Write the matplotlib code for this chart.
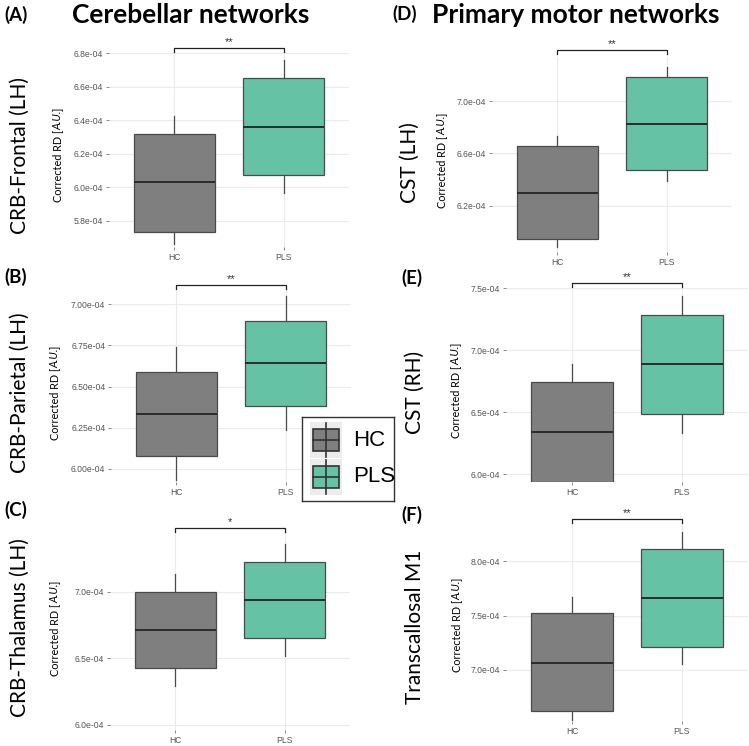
import numpy as np
import matplotlib.pyplot as plt
from matplotlib.patches import Rectangle

groups = ['HC', 'PLS']
tracts = ['CRB-Frontal (LH)', 'CRB-Parietal (LH)', 'CRB-Thalamus (LH)',
          'CST (LH)', 'CST (RH)', 'Transcallosal M1']
tags = ['(A)', '(B)', '(C)', '(D)', '(E)', '(F)']
signif = ['**', '**', '*', '**', '**', '**']
col_titles = ['Cerebellar networks', 'Primary motor networks']

# corrected RD, units of 1e-4: whisker low, q1, median, q3, whisker high
hc_stats = [
    [5.657, 5.734, 6.028, 6.315, 6.422],
    [5.933, 6.081, 6.335, 6.591, 6.740],
    [6.292, 6.425, 6.710, 6.995, 7.130],
    [5.884, 5.943, 6.299, 6.656, 6.732],
    [5.914, 5.940, 6.341, 6.745, 6.893],
    [6.530, 6.618, 7.064, 7.521, 7.674],
]
pls_stats = [
    [5.966, 6.072, 6.360, 6.648, 6.758],
    [6.238, 6.385, 6.641, 6.900, 7.050],
    [6.520, 6.655, 6.940, 7.225, 7.358],
    [6.388, 6.470, 6.826, 7.181, 7.262],
    [6.335, 6.484, 6.890, 7.285, 7.438],
    [7.059, 7.216, 7.665, 8.116, 8.275],
]
yticks = [
    [5.8, 6.0, 6.2, 6.4, 6.6, 6.8],
    [6.00, 6.25, 6.50, 6.75, 7.00],
    [6.0, 6.5, 7.0],
    [6.2, 6.6, 7.0],
    [6.0, 6.5, 7.0, 7.5],
    [7.0, 7.5, 8.0],
]
tick_fmt = ['%.1e', '%.2e', '%.1e', '%.1e', '%.1e', '%.1e']
ylims = [(5.642, 6.806), (5.921, 7.099), (5.9625, 7.440),
         (5.846, 7.337), (5.938, 7.502), (6.529, 8.355)]

colors = ['#7f7f7f', '#66c2a5']
edge = '#4a4a4a'
W, H = 749, 746

# layout in pixels
boxes = [(109, 349, 52, 247), (111, 351, 288, 482), (110, 350, 533, 730),
         (492, 732, 57, 252), (506, 748, 288, 482), (506, 748, 523, 721)]
brk_off = [4, 3, 5, 7, 5, 4]
row_lab = [(20, 155), (20, 393), (20, 628), (410, 163), (415, 392), (415, 627)]
y_lab = [(58, 155), (55, 393), (55, 628), (442, 160), (456, 390), (457, 625)]
tag_pos = [(4, 15), (4, 277), (4, 510), (392, 14), (401, 278), (401, 515)]

fig = plt.figure(figsize=(W / 100, H / 100), dpi=100)
fig.patch.set_facecolor('white')
renderer = fig.canvas.get_renderer()


def rotated_label(xc, yc, pieces):
    # pieces: list of (text, style); stacked bottom-to-top, centred on (xc, yc) in pixels
    texts = [fig.text(0, 0, s, rotation=90, ha='center', va='bottom', fontsize=7.8,
                      family='Lato', style=st) for s, st in pieces]
    lens = [t.get_window_extent(renderer).height for t in texts]
    y = (H - yc) - sum(lens) / 2
    for t, L in zip(texts, lens):
        t.set_position((xc / W, y / H))
        y += L


for i in range(6):
    l, r, t, b = boxes[i]
    ax = fig.add_axes([l / W, 1 - b / H, (r - l) / W, (b - t) / H])
    ax.set_facecolor('white')
    for s in ax.spines.values():
        s.set_visible(False)
    stats = []
    for g, st in zip(groups, [hc_stats[i], pls_stats[i]]):
        v = np.array(st) * 1e-4
        stats.append(dict(label=g, whislo=v[0], q1=v[1], med=v[2], q3=v[3], whishi=v[4], fliers=[]))
    bp = ax.bxp(stats, positions=[1, 2], widths=0.75, patch_artist=True, showcaps=False,
                boxprops=dict(edgecolor=edge, linewidth=0.9),
                whiskerprops=dict(color=edge, linewidth=0.9),
                medianprops=dict(color='#2b2b2b', linewidth=1.4), zorder=3)
    for patch, c in zip(bp['boxes'], colors):
        patch.set_facecolor(c)
    ax.set_xlim(0.4, 2.6)
    ax.set_ylim(ylims[i][0] * 1e-4, ylims[i][1] * 1e-4)
    ticks = np.array(yticks[i]) * 1e-4
    ax.set_yticks(ticks)
    ax.set_yticklabels([tick_fmt[i] % v for v in ticks], fontsize=6.2,
                       color='#555555', family='Liberation Sans')
    ax.set_xticks([1, 2])
    ax.set_xticklabels(groups, fontsize=6.2, color='#555555', family='Liberation Sans')
    ax.tick_params(length=2, width=0.6, color='#777777', pad=2)
    ax.grid(True, color='#ebebeb', linewidth=0.8, zorder=0)
    ax.set_axisbelow(True)

    # significance bracket above the panel
    hpx = b - t
    yb = 1 + brk_off[i] / hpx
    tr = ax.get_xaxis_transform()
    ax.plot([1, 1, 2, 2], [yb - 4 / hpx, yb, yb, yb - 4 / hpx], color='#222222',
            linewidth=0.9, transform=tr, clip_on=False)
    ax.text(1.5, yb + 1 / hpx, signif[i], transform=tr, ha='center', va='bottom',
            fontsize=8, color='#333333', family='Liberation Sans')

    x, y = row_lab[i]
    fig.text(x / W, 1 - y / H, tracts[i], rotation=90, ha='center', va='center',
             fontsize=15, family='Lato')
    x, y = y_lab[i]
    rotated_label(x, y, [('Corrected RD [', 'normal'), ('A.U.', 'italic'), (']', 'normal')])
    x, y = tag_pos[i]
    fig.text(x / W, 1 - y / H, tags[i], ha='left', va='center', fontsize=13.5,
             fontweight='bold', family='Lato')

fig.text(72 / W, 1 - 15 / H, col_titles[0], ha='left', va='center', fontsize=19,
         fontweight='bold', family='Lato')
fig.text(432 / W, 1 - 15 / H, col_titles[1], ha='left', va='center', fontsize=19,
         fontweight='bold', family='Lato')

# legend drawn as a small boxplot key
lg = fig.add_axes([302 / W, 1 - 501 / H, 92 / W, 84 / H])
lg.set_xlim(0, 92)
lg.set_ylim(84, 0)
lg.set_xticks([])
lg.set_yticks([])
for s in lg.spines.values():
    s.set_color('#333333')
    s.set_linewidth(1.0)
for k, (g, c) in enumerate(zip(groups, colors)):
    cy = 23 + k * 37
    lg.add_patch(Rectangle((8, cy - 18), 32, 36, facecolor='#ececec', edgecolor='none'))
    lg.plot([24, 24], [cy - 17, cy + 17], color='#333333', linewidth=1.2)
    lg.add_patch(Rectangle((11, cy - 11), 26, 22, facecolor=c, edgecolor='#333333', linewidth=1.2))
    lg.plot([11, 37], [cy, cy], color='#333333', linewidth=1.2)
    lg.text(51, cy, g, ha='left', va='center', fontsize=16, family='Liberation Sans')

fig.savefig('out.png', dpi=100)
